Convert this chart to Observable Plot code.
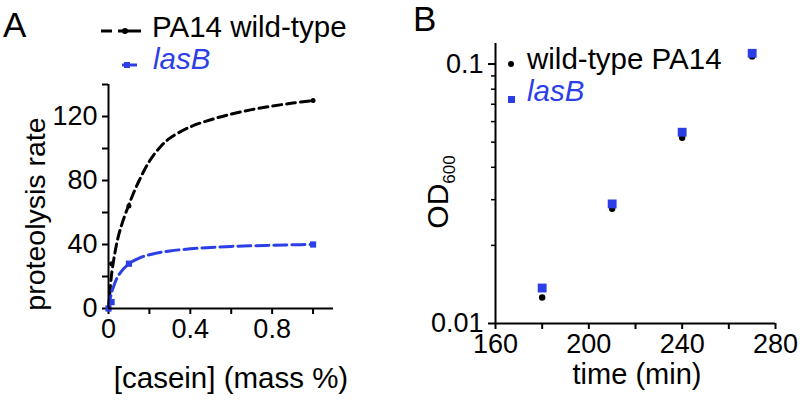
<!DOCTYPE html>
<html><head><meta charset="utf-8">
<script src="https://cdn.jsdelivr.net/npm/d3@7"></script>
<script src="https://cdn.jsdelivr.net/npm/@observablehq/plot@0.6"></script>
<style>
body{margin:0;background:#fff;}
#wrap{position:relative;width:800px;height:400px;overflow:hidden;font-family:"Liberation Sans",Arial,Helvetica,sans-serif;color:#000;}
#wrap > .panel{position:absolute;top:0;}
#overlay{position:absolute;left:0;top:0;pointer-events:none;}
</style></head><body><div id="wrap"><div class="panel" id="pa" style="left:0"></div><div class="panel" id="pb" style="left:400px"></div></div>
<script>
// ---- Panel A data ----
const caseinPoints = [0, 0.015, 0.1, 1.0];
const wildTypeRate = [0, 28, 64, 130];
const lasBRate = [0, 4, 28, 40];
// fitted curves
const curveCasein = [0, 0.01, 0.02, 0.05, 0.1, 0.15, 0.2, 0.25, 0.3, 0.4, 0.5, 0.6, 0.7, 0.8, 0.9, 1.0];
const wildTypeCurve = [0, 15, 26, 46, 65, 80, 92, 100.5, 106.5, 113.5, 118, 121.5, 124.3, 126.5, 128.4, 130];
const lasBCurve = [0, 7, 12, 21, 28, 31.5, 33.6, 35, 36, 37.3, 38.2, 38.8, 39.2, 39.5, 39.8, 40];
const xTicksA = [0, 0.2, 0.4, 0.6, 0.8, 1.0];
const xTickLabelsA = ["0", "", "0.4", "", "0.8", ""];
const yTicksA = [0, 20, 40, 60, 80, 100, 120, 140];
const yTickLabelsA = ["0", "", "40", "", "80", "", "120", ""];

// ---- Panel B data ----
const times = [180, 210, 240, 270];
const wildTypeOD = [0.0126, 0.0277, 0.052, 0.107];
const lasBOD = [0.0137, 0.0289, 0.0546, 0.110];
const xTicksB = [160, 180, 200, 220, 240, 260, 280];
const xTickLabelsB = ["160", "", "200", "", "240", "", "280"];
const yMajorB = [0.01, 0.1];
const yMajorLabelsB = ["0.01", "0.1"];
const yMinorB = [0.02, 0.03, 0.04, 0.05, 0.06, 0.07, 0.08, 0.09];

const BLUE = "#2c3fe6";
const FONT = '"Liberation Sans", Arial, Helvetica, sans-serif';
const fmt = (ticks, labels) => { const m = new Map(ticks.map((t, i) => [t, labels[i]])); return d => m.get(d) ?? ""; };

const ptsWT = caseinPoints.map((x, i) => ({x, y: wildTypeRate[i]}));
const ptsLB = caseinPoints.map((x, i) => ({x, y: lasBRate[i]}));
const crvWT = curveCasein.map((x, i) => ({x, y: wildTypeCurve[i]}));
const crvLB = curveCasein.map((x, i) => ({x, y: lasBCurve[i]}));

const plotA = Plot.plot({
  width: 400, height: 400,
  marginLeft: 108, marginRight: 67, marginTop: 84, marginBottom: 92,
  style: {fontFamily: FONT, fontSize: "27px", background: "transparent", color: "#000", overflow: "visible"},
  x: {domain: [0, 1.1]},
  y: {domain: [0, 140]},
  marks: [
    Plot.axisX({ticks: xTicksA, tickFormat: fmt(xTicksA, xTickLabelsA), tickSize: 6, tickPadding: 4, strokeWidth: 2, fontSize: 27, label: null}),
    Plot.axisY({ticks: yTicksA, tickFormat: fmt(yTicksA, yTickLabelsA), tickSize: 6, tickPadding: 5, strokeWidth: 2, fontSize: 27, label: null}),
    Plot.line(crvWT, {x: "x", y: "y", stroke: "#000", strokeWidth: 3, strokeDasharray: "9,5", curve: "catmull-rom"}),
    Plot.line(crvLB, {x: "x", y: "y", stroke: BLUE, strokeWidth: 3, strokeDasharray: "13,5", curve: "catmull-rom"}),
    Plot.dot(ptsWT, {x: "x", y: "y", r: 2.5, fill: "#000", stroke: null}),
    Plot.dot(ptsLB, {x: "x", y: "y", r: 3.5, symbol: "square", fill: BLUE, stroke: null}),
    Plot.ruleY([0], {stroke: "#000", strokeWidth: 2}),
    Plot.ruleX([0], {stroke: "#000", strokeWidth: 2})
  ]
});
document.getElementById("pa").appendChild(plotA);

const odWT = times.map((t, i) => ({t, v: wildTypeOD[i]}));
const odLB = times.map((t, i) => ({t, v: lasBOD[i]}));

const plotB = Plot.plot({
  width: 400, height: 400,
  marginLeft: 95, marginRight: 25, marginTop: 43, marginBottom: 77,
  style: {fontFamily: FONT, fontSize: "27px", background: "transparent", color: "#000", overflow: "visible"},
  x: {domain: [160, 280]},
  y: {type: "log", domain: [0.01, 0.12]},
  marks: [
    Plot.axisX({ticks: xTicksB, tickFormat: fmt(xTicksB, xTickLabelsB), tickSize: 6, tickPadding: 4, strokeWidth: 2, fontSize: 27, label: null}),
    Plot.axisY({ticks: yMajorB, tickFormat: fmt(yMajorB, yMajorLabelsB), tickSize: 7, tickPadding: 5, strokeWidth: 2, fontSize: 27, label: null}),
    Plot.axisY({ticks: yMinorB, tickFormat: () => "", tickSize: 4, strokeWidth: 1.5, label: null}),
    Plot.dot(odWT, {x: "t", y: "v", r: 3.2, fill: "#000", stroke: null}),
    Plot.dot(odLB, {x: "t", y: "v", r: 5, symbol: "square", fill: BLUE, stroke: null}),
    Plot.ruleY([0.01], {stroke: "#000", strokeWidth: 2}),
    Plot.ruleX([160], {stroke: "#000", strokeWidth: 2})
  ]
});
document.getElementById("pb").appendChild(plotB);

// ---- overlay: panel letters, axis titles, legends ----
const ns = "http://www.w3.org/2000/svg";
const ov = document.createElementNS(ns, "svg");
ov.setAttribute("id", "overlay");
ov.setAttribute("width", 800); ov.setAttribute("height", 400);
ov.setAttribute("font-family", FONT);
ov.innerHTML = `
  <text x="3" y="37" font-size="35">A</text>
  <text x="413" y="31" font-size="35">B</text>
  <text transform="translate(45,214) rotate(-90)" text-anchor="middle" font-size="28.5">proteolysis rate</text>
  <text x="231" y="388" text-anchor="middle" font-size="29.5">[casein] (mass %)</text>
  <text transform="translate(448,192) rotate(-90)" text-anchor="middle" font-size="30">OD<tspan font-size="17" dy="7">600</tspan></text>
  <text x="637" y="384" text-anchor="middle" font-size="29">time (min)</text>

  <line x1="101" y1="31" x2="112" y2="31" stroke="#000" stroke-width="3"/>
  <line x1="118" y1="31" x2="141" y2="31" stroke="#000" stroke-width="3"/>
  <circle cx="125" cy="31" r="3" fill="#000"/>
  <text x="152" y="37" font-size="29.5">PA14 wild-type</text>
  <line x1="122" y1="65" x2="137" y2="65" stroke="${BLUE}" stroke-width="3"/>
  <rect x="124" y="62" width="6" height="6" fill="${BLUE}"/>
  <text x="153" y="69" font-size="29.5" font-style="italic" fill="${BLUE}">lasB</text>

  <circle cx="511" cy="64" r="3" fill="#000"/>
  <text x="527" y="69" font-size="29.5">wild-type PA14</text>
  <rect x="508" y="96" width="7" height="7" fill="${BLUE}"/>
  <text x="527" y="101" font-size="29.5" font-style="italic" fill="${BLUE}">lasB</text>
`;
document.getElementById("wrap").appendChild(ov);
</script>
</body></html>
